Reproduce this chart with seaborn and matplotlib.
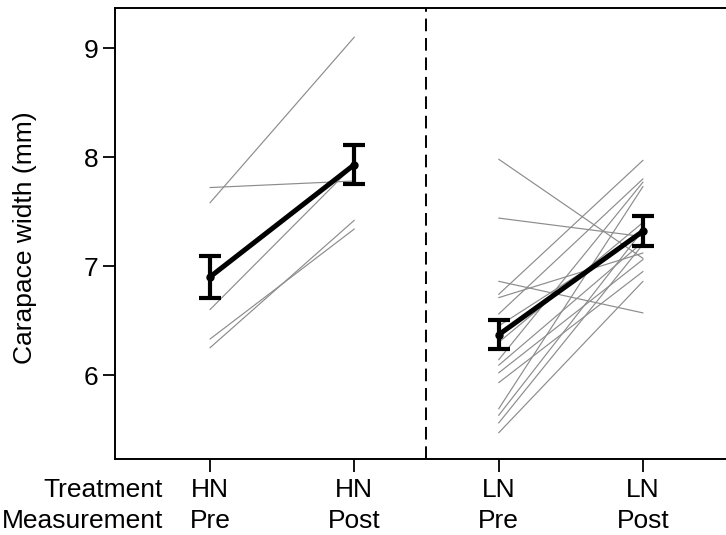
import numpy as np
import pandas as pd
import matplotlib
matplotlib.use("Agg")
import matplotlib.pyplot as plt
import matplotlib.transforms as mtransforms
import seaborn as sns

# Individual crabs: carapace width (mm) before and after, per treatment
hn_pre = [7.58, 7.72, 6.60, 6.33, 6.25]
hn_post = [9.10, 7.78, 7.93, 7.34, 7.42]

ln_pre = [7.98, 7.44, 6.86, 6.74, 6.56, 6.14, 6.09, 6.02, 5.93, 5.69,
          5.63, 5.56, 5.47, 6.45, 6.30, 6.71]
ln_post = [7.07, 7.27, 6.57, 7.97, 7.80, 7.77, 7.22, 7.06, 6.95, 7.73,
           7.33, 7.20, 6.86, 7.30, 7.40, 7.12]

# Group means and standard errors, in the order HN Pre, HN Post, LN Pre, LN Post
group_means = [6.90, 7.93, 6.37, 7.32]
group_se = [0.19, 0.18, 0.135, 0.14]

treatments = ["HN", "HN", "LN", "LN"]
measurements = ["Pre", "Post", "Pre", "Post"]

# Long-format table: one row per crab per measurement
rows = []
for tag, pre, post, x0 in (("HN", hn_pre, hn_post, 0), ("LN", ln_pre, ln_post, 2)):
    for i, (a, b) in enumerate(zip(pre, post)):
        rows.append({"crab": f"{tag}{i}", "pos": x0, "width": a, "treat": tag})
        rows.append({"crab": f"{tag}{i}", "pos": x0 + 1, "width": b, "treat": tag})
df = pd.DataFrame(rows)

sns.set_style("ticks")
plt.rcParams["font.family"] = ["Liberation Sans", "DejaVu Sans"]
plt.rcParams.update({"text.color": "black", "axes.labelcolor": "black",
                     "xtick.color": "black", "ytick.color": "black"})
FS = 19
LS = 1.35
TICK_LEN, TICK_PAD = 9, 5

fig = plt.figure(figsize=(7.26, 5.35), dpi=100)
W, H = 726, 535
ax = fig.add_axes([115 / W, 76 / H, (W - 115) / W, (459 - 8) / H])

for tag in ("HN", "LN"):
    sns.lineplot(data=df[df.treat == tag], x="pos", y="width", units="crab",
                 estimator=None, color="#8c8c8c", linewidth=0.85, ax=ax,
                 legend=False)

# Mean trajectories with SE bars
for x0 in (0, 2):
    ax.plot([x0, x0 + 1], group_means[x0:x0 + 2], color="black", lw=3.6,
            solid_capstyle="butt", zorder=4)
ax.errorbar(range(4), group_means, yerr=group_se, fmt="o", color="black",
            ms=5, elinewidth=3, capsize=8, capthick=3, zorder=5)

# Separator between treatments
ax.axvline(1.5, color="black", lw=1.4, linestyle=(0, (6.5, 3.5)), zorder=3)

ax.set_xlim(-0.658, 3.575)
ax.set_ylim(5.23, 9.367)
ax.set_yticks([6, 7, 8, 9])
ax.set_yticklabels(["6", "7", "8", "9"], fontsize=FS)
ax.set_xticks(range(4))
ax.set_xticklabels([f"{t}\n{m}" for t, m in zip(treatments, measurements)],
                   fontsize=FS, linespacing=LS)
ax.tick_params(axis="both", direction="out", length=TICK_LEN, width=1.3,
               color="black", pad=3)
ax.tick_params(axis="x", pad=TICK_PAD)
ax.set_xlabel("")
ax.set_ylabel("Carapace width (mm)", fontsize=FS, va="center")
ax.yaxis.set_label_coords((25 - 115) / (W - 115), 0.49)

for side in ("left", "bottom", "top"):
    ax.spines[side].set_visible(True)
    ax.spines[side].set_linewidth(1.4)
    ax.spines[side].set_color("black")
ax.spines["right"].set_visible(False)

# Row headers for the two-line category labels
offset = mtransforms.ScaledTranslation(0, -(TICK_LEN + TICK_PAD) / 72,
                                       fig.dpi_scale_trans)
trans = mtransforms.blended_transform_factory(ax.transData, ax.transAxes) + offset
ax.text(-0.325, 0, "Treatment\nMeasurement", transform=trans, ha="right",
        va="top", multialignment="right", fontsize=FS, linespacing=LS,
        clip_on=False)

fig.savefig("out.png", dpi=100)
